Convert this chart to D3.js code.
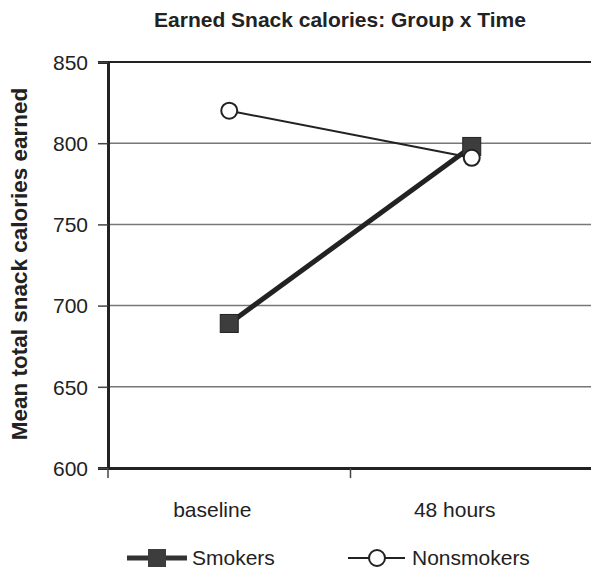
<!DOCTYPE html>
<html>
<head>
<meta charset="utf-8">
<script src="https://cdn.jsdelivr.net/npm/d3@7"></script>
<style>
  body { margin: 0; background: #fff; }
  text { font-family: "Liberation Sans", Arial, sans-serif; fill: #222; }
</style>
</head>
<body>
<svg id="chart" width="591" height="569"></svg>
<script>
var times = ["baseline", "48 hours"],
   smokers = [689, 798],
   nonsmokers = [820, 791],
   yTicks = [600, 650, 700, 750, 800, 850];

var svg = d3.select("#chart"),
   plotLeft = 108, plotRight = 593, plotTop = 62, plotBottom = 468;

var x = d3.scaleBand().domain(times).range([plotLeft, plotRight]),
   y = d3.scaleLinear().domain([600, 850]).range([plotBottom, plotTop]);

// title
svg.append("text").attr("x", 340).attr("y", 27).attr("text-anchor", "middle")
   .style("font-size", "21px").style("font-weight", "bold").text("Earned Snack calories: Group x Time");

// y title
svg.append("text").attr("transform", "translate(27,264) rotate(-90)").attr("text-anchor", "middle")
   .style("font-size", "22.5px").style("font-weight", "bold").text("Mean total snack calories earned");

// gridlines
svg.append("g").selectAll("line").data(yTicks.slice(1, -1)).enter().append("line")
   .attr("x1", plotLeft).attr("x2", plotRight)
   .attr("y1", function (d) { return y(d); }).attr("y2", function (d) { return y(d); })
   .attr("stroke", "#777").attr("stroke-width", 1.5);

// top line
svg.append("line").attr("x1", plotLeft).attr("x2", plotRight).attr("y1", y(850)).attr("y2", y(850))
   .attr("stroke", "#222").attr("stroke-width", 2);

// y axis
var yAxis = svg.append("g").attr("transform", "translate(" + plotLeft + ",0)")
   .call(d3.axisLeft(y).tickValues(yTicks).tickSize(10).tickPadding(10));
yAxis.select(".domain").attr("stroke", "#222").attr("stroke-width", 3);
yAxis.selectAll(".tick line").attr("stroke", "#444").attr("stroke-width", 1.5);
yAxis.selectAll("text").style("font-size", "21px").attr("fill", "#222").attr("dy", "0.35em");

// x axis
var xAxis = svg.append("g").attr("transform", "translate(0," + plotBottom + ")")
   .call(d3.axisBottom(x).tickSize(0).tickPadding(34));
xAxis.select(".domain").attr("stroke", "#222").attr("stroke-width", 3);
xAxis.selectAll("text").style("font-size", "21px").attr("fill", "#222").attr("dx", "-17");
// category boundary ticks
svg.append("g").selectAll("line").data([plotLeft, plotLeft + x.bandwidth()]).enter().append("line")
   .attr("x1", function (d) { return d; }).attr("x2", function (d) { return d; })
   .attr("y1", plotBottom).attr("y2", plotBottom + 10).attr("stroke", "#444").attr("stroke-width", 1.5);

function cx(d, i) { return x(times[i]) + x.bandwidth() / 2; }

var line = d3.line().x(cx).y(function (d) { return y(d); });

svg.append("path").datum(nonsmokers).attr("d", line).attr("fill", "none")
   .attr("stroke", "#222").attr("stroke-width", 2);
svg.append("path").datum(smokers).attr("d", line).attr("fill", "none")
   .attr("stroke", "#222").attr("stroke-width", 5);

svg.append("g").selectAll("rect").data(smokers).enter().append("rect")
   .attr("x", function (d, i) { return cx(d, i) - 9; }).attr("y", function (d) { return y(d) - 9; })
   .attr("width", 18).attr("height", 18).attr("fill", "#3d3d3d").attr("stroke", "#222").attr("stroke-width", 1);

svg.append("g").selectAll("circle").data(nonsmokers).enter().append("circle")
   .attr("cx", cx).attr("cy", function (d) { return y(d); }).attr("r", 8)
   .attr("fill", "#fff").attr("stroke", "#222").attr("stroke-width", 2);

// legend
var lg = svg.append("g");
lg.append("line").attr("x1", 127).attr("x2", 187).attr("y1", 558).attr("y2", 558)
   .attr("stroke", "#333").attr("stroke-width", 5);
lg.append("rect").attr("x", 148).attr("y", 549).attr("width", 18).attr("height", 18).attr("fill", "#3d3d3d");
lg.append("text").attr("x", 192).attr("y", 565).style("font-size", "21px").text("Smokers");
lg.append("line").attr("x1", 348).attr("x2", 405).attr("y1", 558).attr("y2", 558)
   .attr("stroke", "#222").attr("stroke-width", 2);
lg.append("circle").attr("cx", 377).attr("cy", 558).attr("r", 8)
   .attr("fill", "#fff").attr("stroke", "#222").attr("stroke-width", 2);
lg.append("text").attr("x", 412).attr("y", 565).style("font-size", "21px").text("Nonsmokers");
</script>
</body>
</html>
